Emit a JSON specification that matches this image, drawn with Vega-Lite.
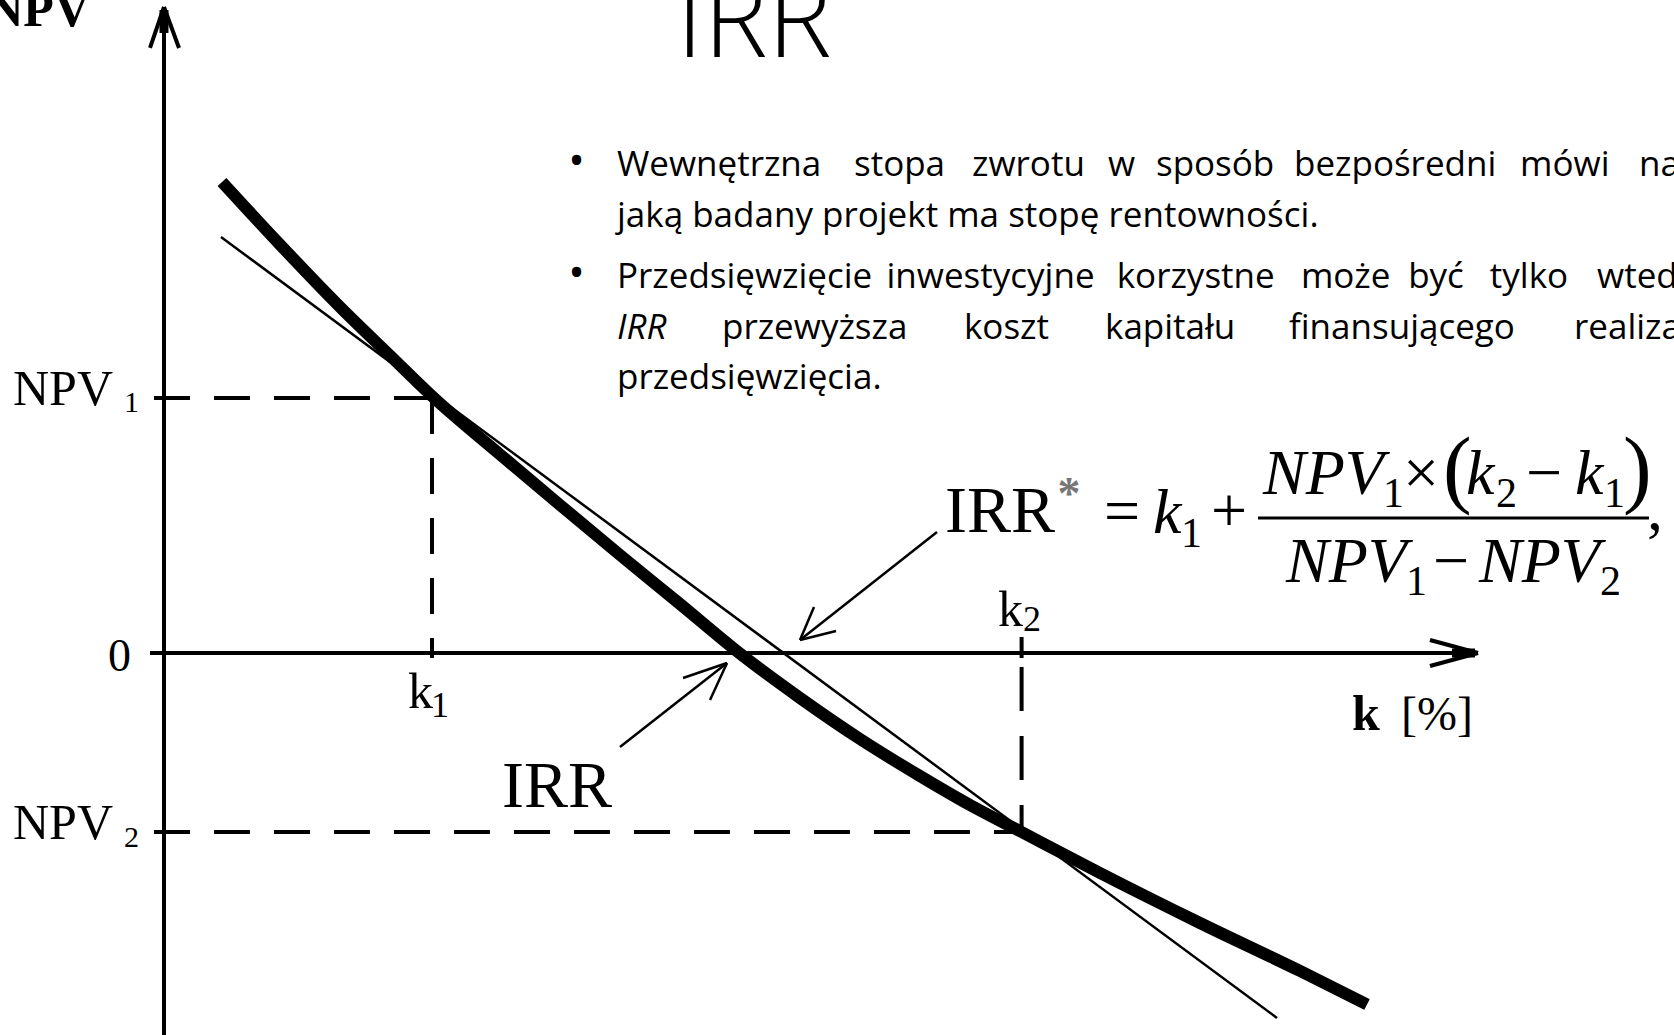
{
  "$schema": "https://vega.github.io/schema/vega-lite/v6.json",
  "width": 1674,
  "height": 1035,
  "autosize": {"type": "none"},
  "padding": 0,
  "background": "white",
  "config": {"view": {"stroke": null}},
  "datasets": {
    "npv_curve": [
      {"k": 1.082, "npv": 263.13},
      {"k": 2.164, "npv": 228.16},
      {"k": 3.284, "npv": 193.3},
      {"k": 4.216, "npv": 166.2},
      {"k": 5.0, "npv": 143.5},
      {"k": 6.269, "npv": 110.9},
      {"k": 7.388, "npv": 82.68},
      {"k": 8.508, "npv": 54.75},
      {"k": 9.627, "npv": 27.37},
      {"k": 10.709, "npv": 0.56},
      {"k": 11.866, "npv": -25.14},
      {"k": 12.985, "npv": -48.04},
      {"k": 14.104, "npv": -68.72},
      {"k": 15.037, "npv": -84.92},
      {"k": 16.0, "npv": -100.0},
      {"k": 17.463, "npv": -122.91},
      {"k": 19.328, "npv": -150.84},
      {"k": 21.194, "npv": -177.65},
      {"k": 22.444, "npv": -196.37}
    ],
    "secant": [
      {"k": 1.063, "npv": 232.4},
      {"k": 20.765, "npv": -203.91}
    ],
    "segments": [
      {"style": "axis", "k": 0, "npv": -214, "k_end": 0, "npv_end": 360.89},
      {"style": "axis", "k": -0.2612, "npv": 0, "k_end": 24.515, "npv_end": 0},
      {"style": "axis", "k": 16, "npv": 8.94, "k_end": 16, "npv_end": -2.79},
      {"style": "axis", "k": 0, "npv": 360.89, "k_end": -0.2612, "npv_end": 338.0},
      {"style": "axis", "k": 0, "npv": 360.89, "k_end": 0.2799, "npv_end": 338.0},
      {"style": "axis", "k": 24.515, "npv": 0, "k_end": 23.619, "npv_end": 7.263},
      {"style": "axis", "k": 24.515, "npv": 0, "k_end": 23.619, "npv_end": -7.263},
      {"style": "core", "k": 0, "npv": 359.22, "k_end": 0, "npv_end": 346.37},
      {"style": "core", "k": 24.03, "npv": 0, "k_end": 24.459, "npv_end": 0},
      {"style": "bar", "k": 20.41, "npv": 75.42, "k_end": 27.705, "npv_end": 75.42},
      {"style": "guide", "k": -0.1866, "npv": 142.5, "k_end": 5, "npv_end": 142.5},
      {"style": "guide", "k": 5, "npv": 142.5, "k_end": 5, "npv_end": -2.79},
      {"style": "guide", "k": -0.1866, "npv": -100, "k_end": 16, "npv_end": -100},
      {"style": "guide2", "k": 16, "npv": -7.82, "k_end": 16, "npv_end": -100},
      {"style": "pointer", "k": 8.507, "npv": -52.51, "k_end": 10.504, "npv_end": -5.587},
      {"style": "pointer", "k": 10.504, "npv": -5.587, "k_end": 9.683, "npv_end": -13.97},
      {"style": "pointer", "k": 10.504, "npv": -5.587, "k_end": 10.187, "npv_end": -26.26},
      {"style": "pointer", "k": 14.422, "npv": 67.6, "k_end": 11.866, "npv_end": 7.263},
      {"style": "pointer", "k": 11.866, "npv": 7.263, "k_end": 12.127, "npv_end": 25.7},
      {"style": "pointer", "k": 11.866, "npv": 7.263, "k_end": 12.537, "npv_end": 12.29}
    ],
    "labels": [
      {"role": "axis_title", "label": "NPV", "k": -1.3806, "npv": 350.28},
      {"role": "axis_r", "label": "NPV", "k": -0.9515, "npv": 138.55},
      {"role": "axis_r", "label": "NPV", "k": -0.9515, "npv": -103.91},
      {"role": "zero", "label": "0", "k": -0.6157, "npv": -10.06},
      {"role": "axis_l", "label": "k", "k": 4.5522, "npv": -30.73},
      {"role": "axis_l", "label": "k", "k": 15.56, "npv": 15.08},
      {"role": "sub_small", "label": "1", "k": -0.7463, "npv": 134.64},
      {"role": "sub_small", "label": "2", "k": -0.7463, "npv": -108.38},
      {"role": "sub_k", "label": "1", "k": 4.9813, "npv": -35.75},
      {"role": "sub_k", "label": "2", "k": 16.026, "npv": 12.29},
      {"role": "irr", "label": "IRR", "k": 6.306, "npv": -86.03},
      {"role": "irr", "label": "IRR", "k": 14.571, "npv": 67.6},
      {"role": "star", "label": "*", "k": 16.884, "npv": 80.5},
      {"role": "k_bold", "label": "k", "k": 22.164, "npv": -43.02},
      {"role": "unit", "label": "[%]", "k": 23.078, "npv": -43.02},
      {"role": "f_it", "label": "k", "k": 18.451, "npv": 67.04},
      {"role": "f_it", "label": "NPV", "k": 20.504, "npv": 88.83},
      {"role": "f_it", "label": "k", "k": 24.291, "npv": 88.83},
      {"role": "f_it", "label": "k", "k": 26.325, "npv": 88.83},
      {"role": "f_it", "label": "NPV", "k": 20.933, "npv": 39.66},
      {"role": "f_it", "label": "NPV", "k": 24.534, "npv": 39.66},
      {"role": "f_sub", "label": "1", "k": 18.974, "npv": 59.22},
      {"role": "f_sub", "label": "1", "k": 22.743, "npv": 81.56},
      {"role": "f_sub", "label": "2", "k": 24.851, "npv": 81.56},
      {"role": "f_sub", "label": "1", "k": 26.866, "npv": 81.56},
      {"role": "f_sub", "label": "1", "k": 23.172, "npv": 32.4},
      {"role": "f_sub", "label": "2", "k": 26.791, "npv": 32.4},
      {"role": "f_op", "label": "=", "k": 17.873, "npv": 67.6},
      {"role": "f_op", "label": "+", "k": 19.869, "npv": 67.6},
      {"role": "f_op", "label": "×", "k": 23.451, "npv": 88.83},
      {"role": "f_op", "label": "−", "k": 25.746, "npv": 88.83},
      {"role": "f_op", "label": "−", "k": 24.011, "npv": 39.66},
      {"role": "f_op", "label": ",", "k": 27.817, "npv": 68.72},
      {"role": "f_paren", "label": "(", "k": 23.862, "npv": 87.15},
      {"role": "f_paren", "label": ")", "k": 27.22, "npv": 87.15},
      {"role": "title", "label": "IRR", "k": 11.007, "npv": 333.18},
      {"role": "bullet", "label": "•", "k": 7.696, "npv": 266.48},
      {"role": "bullet", "label": "•", "k": 7.696, "npv": 203.63},
      {"role": "body", "label": "Wewnętrzna", "k": 8.451, "npv": 266.48},
      {"role": "body", "label": "stopa", "k": 12.873, "npv": 266.48},
      {"role": "body", "label": "zwrotu", "k": 15.075, "npv": 266.48},
      {"role": "body", "label": "w", "k": 17.612, "npv": 266.48},
      {"role": "body", "label": "sposób", "k": 18.507, "npv": 266.48},
      {"role": "body", "label": "bezpośredni", "k": 21.082, "npv": 266.48},
      {"role": "body", "label": "mówi", "k": 25.3, "npv": 266.48},
      {"role": "body", "label": "na", "k": 27.52, "npv": 266.48},
      {"role": "body", "label": "jaką badany projekt ma stopę rentowności.", "k": 8.451, "npv": 237.99},
      {"role": "body", "label": "Przedsięwzięcie", "k": 8.451, "npv": 203.63},
      {"role": "body", "label": "inwestycyjne", "k": 13.48, "npv": 203.63},
      {"role": "body", "label": "korzystne", "k": 17.774, "npv": 203.63},
      {"role": "body", "label": "może", "k": 21.211, "npv": 203.63},
      {"role": "body", "label": "być", "k": 23.212, "npv": 203.63},
      {"role": "body", "label": "tylko", "k": 24.735, "npv": 203.63},
      {"role": "body", "label": "wtedy,", "k": 26.737, "npv": 203.63},
      {"role": "body_it", "label": "IRR", "k": 8.451, "npv": 175.14},
      {"role": "body", "label": "przewyższa", "k": 10.41, "npv": 175.14},
      {"role": "body", "label": "koszt", "k": 14.925, "npv": 175.14},
      {"role": "body", "label": "kapitału", "k": 17.556, "npv": 175.14},
      {"role": "body", "label": "finansującego", "k": 20.989, "npv": 175.14},
      {"role": "body", "label": "realizację", "k": 26.306, "npv": 175.14},
      {"role": "body", "label": "przedsięwzięcia.", "k": 8.451, "npv": 147.49}
    ]
  },
  "encoding": {
    "x": {"field": "k", "type": "quantitative", "scale": {"domain": [-3.0597, 28.1716], "nice": false, "zero": false}, "axis": null},
    "y": {"field": "npv", "type": "quantitative", "scale": {"domain": [-213.41, 364.8], "nice": false, "zero": false}, "axis": null}
  },
  "layer": [
    {
      "data": {"name": "segments"},
      "transform": [{"filter": "datum.style === 'guide'"}],
      "mark": {"type": "rule", "color": "black", "strokeWidth": 4, "strokeDash": [36, 24]},
      "encoding": {"x2": {"field": "k_end"}, "y2": {"field": "npv_end"}}
    },
    {
      "data": {"name": "segments"},
      "transform": [{"filter": "datum.style === 'guide2'"}],
      "mark": {"type": "rule", "color": "black", "strokeWidth": 4, "strokeDash": [44, 25]},
      "encoding": {"x2": {"field": "k_end"}, "y2": {"field": "npv_end"}}
    },
    {
      "data": {"name": "segments"},
      "transform": [{"filter": "datum.style === 'axis'"}],
      "mark": {"type": "rule", "color": "black", "strokeWidth": 4},
      "encoding": {"x2": {"field": "k_end"}, "y2": {"field": "npv_end"}}
    },
    {
      "data": {"name": "segments"},
      "transform": [{"filter": "datum.style === 'core'"}],
      "mark": {"type": "rule", "color": "black", "strokeWidth": 9},
      "encoding": {"x2": {"field": "k_end"}, "y2": {"field": "npv_end"}}
    },
    {
      "data": {"name": "segments"},
      "transform": [{"filter": "datum.style === 'bar'"}],
      "mark": {"type": "rule", "color": "black", "strokeWidth": 3},
      "encoding": {"x2": {"field": "k_end"}, "y2": {"field": "npv_end"}}
    },
    {
      "data": {"name": "segments"},
      "transform": [{"filter": "datum.style === 'pointer'"}],
      "mark": {"type": "rule", "color": "black", "strokeWidth": 2.5},
      "encoding": {"x2": {"field": "k_end"}, "y2": {"field": "npv_end"}}
    },
    {
      "data": {"name": "secant"},
      "mark": {"type": "line", "color": "black", "strokeWidth": 2.5},
      "encoding": {}
    },
    {
      "data": {"name": "npv_curve"},
      "mark": {"type": "line", "color": "black", "strokeWidth": 12, "interpolate": "monotone", "strokeJoin": "round"},
      "encoding": {}
    },
    {
      "data": {"name": "labels"},
      "transform": [{"filter": "datum.role === 'axis_title'"}],
      "mark": {"type": "text", "font": "Liberation Serif", "fontSize": 50, "fontWeight": "bold", "align": "right", "baseline": "alphabetic", "color": "black"},
      "encoding": {"text": {"field": "label"}}
    },
    {
      "data": {"name": "labels"},
      "transform": [{"filter": "datum.role === 'axis_r'"}],
      "mark": {"type": "text", "font": "Liberation Serif", "fontSize": 50, "align": "right", "baseline": "alphabetic", "color": "black"},
      "encoding": {"text": {"field": "label"}}
    },
    {
      "data": {"name": "labels"},
      "transform": [{"filter": "datum.role === 'zero'"}],
      "mark": {"type": "text", "font": "Liberation Serif", "fontSize": 46, "align": "right", "baseline": "alphabetic", "color": "black"},
      "encoding": {"text": {"field": "label"}}
    },
    {
      "data": {"name": "labels"},
      "transform": [{"filter": "datum.role === 'axis_l'"}],
      "mark": {"type": "text", "font": "Liberation Serif", "fontSize": 50, "align": "left", "baseline": "alphabetic", "color": "black"},
      "encoding": {"text": {"field": "label"}}
    },
    {
      "data": {"name": "labels"},
      "transform": [{"filter": "datum.role === 'sub_small'"}],
      "mark": {"type": "text", "font": "Liberation Serif", "fontSize": 30, "align": "left", "baseline": "alphabetic", "color": "black"},
      "encoding": {"text": {"field": "label"}}
    },
    {
      "data": {"name": "labels"},
      "transform": [{"filter": "datum.role === 'sub_k'"}],
      "mark": {"type": "text", "font": "Liberation Serif", "fontSize": 36, "align": "left", "baseline": "alphabetic", "color": "black"},
      "encoding": {"text": {"field": "label"}}
    },
    {
      "data": {"name": "labels"},
      "transform": [{"filter": "datum.role === 'irr'"}],
      "mark": {"type": "text", "font": "Liberation Serif", "fontSize": 66, "align": "left", "baseline": "alphabetic", "color": "black"},
      "encoding": {"text": {"field": "label"}}
    },
    {
      "data": {"name": "labels"},
      "transform": [{"filter": "datum.role === 'star'"}],
      "mark": {"type": "text", "font": "Liberation Serif", "fontSize": 46, "fontWeight": "bold", "align": "center", "baseline": "alphabetic", "color": "#777777"},
      "encoding": {"text": {"field": "label"}}
    },
    {
      "data": {"name": "labels"},
      "transform": [{"filter": "datum.role === 'k_bold'"}],
      "mark": {"type": "text", "font": "Liberation Serif", "fontSize": 50, "fontWeight": "bold", "align": "left", "baseline": "alphabetic", "color": "black"},
      "encoding": {"text": {"field": "label"}}
    },
    {
      "data": {"name": "labels"},
      "transform": [{"filter": "datum.role === 'unit'"}],
      "mark": {"type": "text", "font": "Liberation Serif", "fontSize": 48, "align": "left", "baseline": "alphabetic", "color": "black"},
      "encoding": {"text": {"field": "label"}}
    },
    {
      "data": {"name": "labels"},
      "transform": [{"filter": "datum.role === 'f_it'"}],
      "mark": {"type": "text", "font": "Liberation Serif", "fontSize": 64, "fontStyle": "italic", "align": "left", "baseline": "alphabetic", "color": "black"},
      "encoding": {"text": {"field": "label"}}
    },
    {
      "data": {"name": "labels"},
      "transform": [{"filter": "datum.role === 'f_sub'"}],
      "mark": {"type": "text", "font": "Liberation Serif", "fontSize": 42, "align": "left", "baseline": "alphabetic", "color": "black"},
      "encoding": {"text": {"field": "label"}}
    },
    {
      "data": {"name": "labels"},
      "transform": [{"filter": "datum.role === 'f_op'"}],
      "mark": {"type": "text", "font": "Liberation Serif", "fontSize": 64, "align": "center", "baseline": "alphabetic", "color": "black"},
      "encoding": {"text": {"field": "label"}}
    },
    {
      "data": {"name": "labels"},
      "transform": [{"filter": "datum.role === 'f_paren'"}],
      "mark": {"type": "text", "font": "Liberation Serif", "fontSize": 86, "align": "left", "baseline": "alphabetic", "color": "black"},
      "encoding": {"text": {"field": "label"}}
    },
    {
      "data": {"name": "labels"},
      "transform": [{"filter": "datum.role === 'title'"}],
      "mark": {"type": "text", "font": "Open Sans", "fontSize": 108, "fontWeight": 300, "align": "center", "baseline": "alphabetic", "color": "black"},
      "encoding": {"text": {"field": "label"}}
    },
    {
      "data": {"name": "labels"},
      "transform": [{"filter": "datum.role === 'bullet'"}],
      "mark": {"type": "text", "font": "Open Sans", "fontSize": 44, "align": "center", "baseline": "alphabetic", "color": "black"},
      "encoding": {"text": {"field": "label"}}
    },
    {
      "data": {"name": "labels"},
      "transform": [{"filter": "datum.role === 'body'"}],
      "mark": {"type": "text", "font": "Open Sans", "fontSize": 35, "align": "left", "baseline": "alphabetic", "color": "black"},
      "encoding": {"text": {"field": "label"}}
    },
    {
      "data": {"name": "labels"},
      "transform": [{"filter": "datum.role === 'body_it'"}],
      "mark": {"type": "text", "font": "Open Sans", "fontSize": 35, "fontStyle": "italic", "align": "left", "baseline": "alphabetic", "color": "black"},
      "encoding": {"text": {"field": "label"}}
    }
  ]
}
